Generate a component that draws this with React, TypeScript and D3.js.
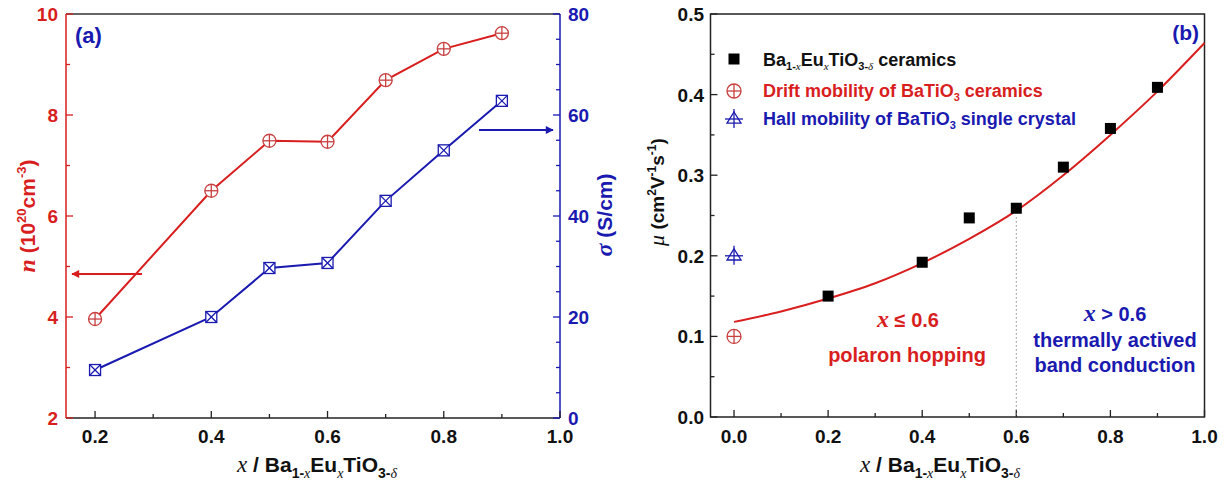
import React from "react";
import * as d3 from "d3";

// ---------- Data ----------
const compX = [0.2, 0.4, 0.5, 0.6, 0.7, 0.8, 0.9];
const carrierN = [3.96, 6.5, 7.49, 7.47, 8.69, 9.31, 9.62];
const conductivity = [9.5, 20, 29.7, 30.7, 43, 53, 62.8];
const mobility = [0.15, 0.192, 0.247, 0.259, 0.31, 0.358, 0.409];
const fitX = [0, 0.1, 0.2, 0.3, 0.4, 0.5, 0.6, 0.7, 0.8, 0.9, 1.0];
const fitY = [0.118, 0.131, 0.147, 0.166, 0.191, 0.221, 0.256, 0.3, 0.35, 0.404, 0.464];
const driftMobility = { x: 0, y: 0.1 };
const hallMobility = { x: 0, y: 0.2 };

const aXTicks = [0.2, 0.4, 0.6, 0.8, 1.0];
const aXMinor = [0.3, 0.5, 0.7, 0.9];
const aNTicks = [2, 4, 6, 8, 10];
const aNMinor = [3, 5, 7, 9];
const aSTicks = [0, 20, 40, 60, 80];
const aSMinor = [5, 10, 15, 25, 30, 35, 45, 50, 55, 65, 70, 75];
const bXTicks = [0, 0.2, 0.4, 0.6, 0.8, 1.0];
const bXMinor = [0.1, 0.3, 0.5, 0.7, 0.9];
const bYTicks = [0, 0.1, 0.2, 0.3, 0.4, 0.5];
const bYMinor = [0.05, 0.15, 0.25, 0.35, 0.45];

const RED = "#d81e1e";
const MRED = "#c84040";
const BLUE = "#1a1ab0";
const FONT = "'Liberation Sans', Arial, sans-serif";
const SERIF = "'Liberation Serif', 'Times New Roman', serif";

// ---------- Scales ----------
const xA = d3.scaleLinear().domain([0.15, 1.0]).range([66, 560]);
const yN = d3.scaleLinear().domain([2, 10]).range([418, 14]);
const yS = d3.scaleLinear().domain([0, 80]).range([418, 14]);
const xB = d3.scaleLinear().domain([-0.05, 1.0]).range([710.5, 1204.5]);
const yM = d3.scaleLinear().domain([0, 0.5]).range([417, 14]);

const fmt1 = d3.format(".1f");

function XTitle({ x, y }: { x: number; y: number }) {
  return (
    <text x={x} y={y} fontFamily={FONT} fontWeight="bold" fontSize={21} textAnchor="middle" fill="#111">
      <tspan fontFamily={SERIF} fontStyle="italic" fontWeight="normal" fontSize={23}>x</tspan>
      <tspan> / Ba</tspan>
      <tspan fontSize={14} dy={6}>1-</tspan>
      <tspan fontSize={14} fontFamily={SERIF} fontStyle="italic" fontWeight="normal">x</tspan>
      <tspan dy={-6}>Eu</tspan>
      <tspan fontSize={14} dy={6} fontFamily={SERIF} fontStyle="italic" fontWeight="normal">x</tspan>
      <tspan dy={-6}>TiO</tspan>
      <tspan fontSize={14} dy={6}>3-</tspan>
      <tspan fontSize={14} fontFamily={SERIF} fontStyle="italic" fontWeight="normal">δ</tspan>
    </text>
  );
}

function CirclePlus({ cx, cy, r = 6.5, color = MRED }: any) {
  return (
    <g stroke={color} strokeWidth={1.3} fill="white">
      <circle cx={cx} cy={cy} r={r} />
      <line x1={cx - r} x2={cx + r} y1={cy} y2={cy} />
      <line x1={cx} x2={cx} y1={cy - r} y2={cy + r} />
    </g>
  );
}

function SquareX({ cx, cy, s = 11, color = BLUE }: any) {
  const h = s / 2;
  return (
    <g stroke={color} strokeWidth={1.3} fill="white">
      <rect x={cx - h} y={cy - h} width={s} height={s} />
      <line x1={cx - h} y1={cy - h} x2={cx + h} y2={cy + h} />
      <line x1={cx - h} y1={cy + h} x2={cx + h} y2={cy - h} />
    </g>
  );
}

function TriCross({ cx, cy, color = BLUE }: any) {
  const h = 7;
  return (
    <g stroke={color} strokeWidth={1.3} fill="none">
      <path d={`M${cx},${cy - h} L${cx + h},${cy + h * 0.6} L${cx - h},${cy + h * 0.6} Z`} />
      <line x1={cx} x2={cx} y1={cy - h - 3} y2={cy + h + 2} />
      <line x1={cx - h - 2} x2={cx + h + 2} y1={cy} y2={cy} />
    </g>
  );
}

export default function App() {
  const lineN = d3.line<number>().x((_, i) => xA(compX[i])).y((d) => yN(d));
  const lineS = d3.line<number>().x((_, i) => xA(compX[i])).y((d) => yS(d));
  const fitLine = d3
    .line<number>()
    .x((_, i) => xB(fitX[i]))
    .y((d) => yM(d))
    .curve(d3.curveMonotoneX);

  const tickFont = { fontFamily: FONT, fontWeight: "bold" as const, fontSize: 19 };

  return (
    <svg width={1228} height={486} style={{ position: "absolute", left: 0, top: 0, background: "white" }}>
      <defs>
        <marker id="arR" viewBox="0 0 10 10" refX="9" refY="5" markerWidth="10" markerHeight="8" markerUnits="userSpaceOnUse" orient="auto">
          <path d="M0,0 L10,5 L0,10 Z" fill={RED} />
        </marker>
        <marker id="arB" viewBox="0 0 10 10" refX="9" refY="5" markerWidth="10" markerHeight="8" markerUnits="userSpaceOnUse" orient="auto">
          <path d="M0,0 L10,5 L0,10 Z" fill={BLUE} />
        </marker>
      </defs>

      {/* ================= Panel (a) ================= */}
      <line x1={66} x2={560} y1={14} y2={14} stroke="#333" strokeWidth={1.5} />
      <line x1={66} x2={560} y1={418} y2={418} stroke="#222" strokeWidth={1.5} />
      <line x1={66} x2={66} y1={14} y2={418} stroke={RED} strokeWidth={1.5} />
      <line x1={560} x2={560} y1={14} y2={418} stroke={BLUE} strokeWidth={1.5} />

      {aXTicks.map((t) => (
        <g key={"ax" + t}>
          <line x1={xA(t)} x2={xA(t)} y1={418} y2={411} stroke="#222" strokeWidth={1.3} />
          <text x={xA(t)} y={443} textAnchor="middle" fill="#111" {...tickFont}>{fmt1(t)}</text>
        </g>
      ))}
      {aXMinor.map((t) => (
        <line key={"axm" + t} x1={xA(t)} x2={xA(t)} y1={418} y2={414} stroke="#222" strokeWidth={1.3} />
      ))}
      {aNTicks.map((t) => (
        <g key={"an" + t}>
          <line x1={66} x2={73} y1={yN(t)} y2={yN(t)} stroke={RED} strokeWidth={1.3} />
          <text x={58} y={yN(t) + 7} textAnchor="end" fill={RED} {...tickFont}>{t}</text>
        </g>
      ))}
      {aNMinor.map((t) => (
        <line key={"anm" + t} x1={66} x2={70} y1={yN(t)} y2={yN(t)} stroke={RED} strokeWidth={1.3} />
      ))}
      {aSTicks.map((t) => (
        <g key={"as" + t}>
          <line x1={553} x2={560} y1={yS(t)} y2={yS(t)} stroke={BLUE} strokeWidth={1.3} />
          <text x={568} y={yS(t) + 7} textAnchor="start" fill={BLUE} {...tickFont}>{t}</text>
        </g>
      ))}
      {aSMinor.map((t) => (
        <line key={"asm" + t} x1={556} x2={560} y1={yS(t)} y2={yS(t)} stroke={BLUE} strokeWidth={1.3} />
      ))}

      <path d={lineN(carrierN) || ""} fill="none" stroke={RED} strokeWidth={2} />
      <path d={lineS(conductivity) || ""} fill="none" stroke={BLUE} strokeWidth={2} />
      {carrierN.map((v, i) => (
        <CirclePlus key={"cn" + i} cx={xA(compX[i])} cy={yN(v)} />
      ))}
      {conductivity.map((v, i) => (
        <SquareX key={"cs" + i} cx={xA(compX[i])} cy={yS(v)} />
      ))}

      <line x1={142} x2={72} y1={274} y2={274} stroke={RED} strokeWidth={2} markerEnd="url(#arR)" />
      <line x1={479} x2={553} y1={130} y2={130} stroke={BLUE} strokeWidth={2} markerEnd="url(#arB)" />

      <text x={75} y={43} fontFamily={FONT} fontWeight="bold" fontSize={22} fill={BLUE}>(a)</text>

      <XTitle x={317} y={472} />

      <text transform="translate(35,216) rotate(-90)" textAnchor="middle" fontFamily={FONT} fontWeight="bold" fontSize={21} fill={RED}>
        <tspan fontFamily={SERIF} fontStyle="italic" fontSize={24}>n</tspan>
        <tspan> (10</tspan>
        <tspan fontSize={13} dy={-9}>20</tspan>
        <tspan dy={9}>cm</tspan>
        <tspan fontSize={13} dy={-9}>-3</tspan>
        <tspan dy={9}>)</tspan>
      </text>
      <text transform="translate(612,215) rotate(-90)" textAnchor="middle" fontFamily={FONT} fontWeight="bold" fontSize={21} fill={BLUE}>
        <tspan fontFamily={SERIF} fontStyle="italic" fontSize={24}>σ</tspan>
        <tspan> (S/cm)</tspan>
      </text>

      {/* ================= Panel (b) ================= */}
      <rect x={710.5} y={14} width={494} height={403} fill="none" stroke="#222" strokeWidth={1.5} />
      {bXTicks.map((t) => (
        <g key={"bx" + t}>
          <line x1={xB(t)} x2={xB(t)} y1={417} y2={410} stroke="#222" strokeWidth={1.3} />
          <text x={xB(t)} y={443} textAnchor="middle" fill="#111" {...tickFont}>{fmt1(t)}</text>
        </g>
      ))}
      {bXMinor.map((t) => (
        <line key={"bxm" + t} x1={xB(t)} x2={xB(t)} y1={417} y2={413} stroke="#222" strokeWidth={1.3} />
      ))}
      {bYTicks.map((t) => (
        <g key={"by" + t}>
          <line x1={710.5} x2={717.5} y1={yM(t)} y2={yM(t)} stroke="#222" strokeWidth={1.3} />
          <text x={704} y={yM(t) + 7} textAnchor="end" fill="#111" {...tickFont}>{fmt1(t)}</text>
        </g>
      ))}
      {bYMinor.map((t) => (
        <line key={"bym" + t} x1={710.5} x2={714.5} y1={yM(t)} y2={yM(t)} stroke="#222" strokeWidth={1.3} />
      ))}

      <line x1={xB(0.6)} x2={xB(0.6)} y1={yM(0.248)} y2={yM(0)} stroke="#888" strokeWidth={1} strokeDasharray="1.5,2.5" />
      <path d={fitLine(fitY) || ""} fill="none" stroke={RED} strokeWidth={2} />
      {mobility.map((v, i) => (
        <rect key={"mb" + i} x={xB(compX[i]) - 5.5} y={yM(v) - 5.5} width={11} height={11} fill="#000" />
      ))}
      <CirclePlus cx={xB(driftMobility.x)} cy={yM(driftMobility.y)} r={7} />
      <TriCross cx={xB(hallMobility.x)} cy={yM(hallMobility.y)} />

      {/* legend */}
      <rect x={728.5} y={53.5} width={11} height={11} fill="#000" />
      <text x={763} y={66} fontFamily={FONT} fontWeight="bold" fontSize={18} fill="#111">
        <tspan>Ba</tspan>
        <tspan fontSize={11} dy={4}>1-</tspan>
        <tspan fontSize={11} fontFamily={SERIF} fontStyle="italic" fontWeight="normal">x</tspan>
        <tspan dy={-4}>Eu</tspan>
        <tspan fontSize={11} dy={4} fontFamily={SERIF} fontStyle="italic" fontWeight="normal">x</tspan>
        <tspan dy={-4}>TiO</tspan>
        <tspan fontSize={11} dy={4}>3-</tspan>
        <tspan fontSize={11} fontFamily={SERIF} fontStyle="italic" fontWeight="normal">δ</tspan>
        <tspan dy={-4}> ceramics</tspan>
      </text>
      <CirclePlus cx={734} cy={91} r={7} />
      <text x={763} y={97} fontFamily={FONT} fontWeight="bold" fontSize={18} fill={RED}>
        <tspan>Drift mobility of BaTiO</tspan>
        <tspan fontSize={11} dy={4}>3</tspan>
        <tspan dy={-4}> ceramics</tspan>
      </text>
      <TriCross cx={734} cy={119} />
      <text x={763} y={125} fontFamily={FONT} fontWeight="bold" fontSize={18} fill={BLUE}>
        <tspan>Hall mobility of BaTiO</tspan>
        <tspan fontSize={11} dy={4}>3</tspan>
        <tspan dy={-4}>{"  single crystal"}</tspan>
      </text>

      <text x={1199} y={40} textAnchor="end" fontFamily={FONT} fontWeight="bold" fontSize={21} fill={BLUE}>(b)</text>

      {/* annotations */}
      <text x={908} y={327} textAnchor="middle" fontFamily={FONT} fontWeight="bold" fontSize={20} fill={RED}>
        <tspan fontFamily={SERIF} fontStyle="italic" fontSize={24}>x</tspan>
        <tspan> ≤ 0.6</tspan>
      </text>
      <text x={907} y={362} textAnchor="middle" fontFamily={FONT} fontWeight="bold" fontSize={20} fill={RED}>polaron hopping</text>
      <text x={1115} y={321} textAnchor="middle" fontFamily={FONT} fontWeight="bold" fontSize={20} fill={BLUE}>
        <tspan fontFamily={SERIF} fontStyle="italic" fontSize={24}>x</tspan>
        <tspan> &gt; 0.6</tspan>
      </text>
      <text x={1115} y={347} textAnchor="middle" fontFamily={FONT} fontWeight="bold" fontSize={20} fill={BLUE}>thermally actived</text>
      <text x={1115} y={372} textAnchor="middle" fontFamily={FONT} fontWeight="bold" fontSize={20} fill={BLUE}>band conduction</text>

      <XTitle x={940} y={472} />

      <text transform="translate(664,192) rotate(-90)" textAnchor="middle" fontFamily={FONT} fontWeight="bold" fontSize={19} fill="#111">
        <tspan fontFamily={SERIF} fontStyle="italic" fontWeight="normal" fontSize={22}>μ</tspan>
        <tspan> (cm</tspan>
        <tspan fontSize={12} dy={-8}>2</tspan>
        <tspan dy={8}>V</tspan>
        <tspan fontSize={12} dy={-8}>-1</tspan>
        <tspan dy={8}>s</tspan>
        <tspan fontSize={12} dy={-8}>-1</tspan>
        <tspan dy={8}>)</tspan>
      </text>
    </svg>
  );
}
